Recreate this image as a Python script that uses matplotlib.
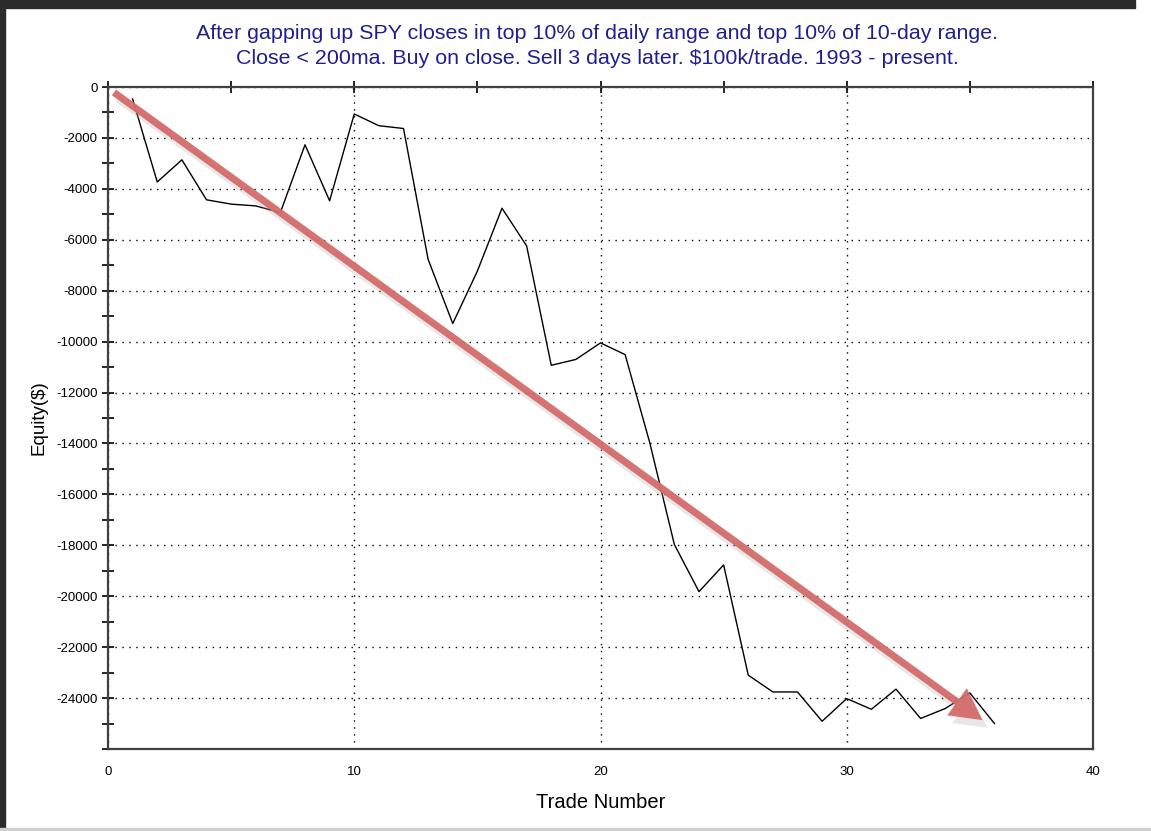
import matplotlib
matplotlib.use("Agg")
import matplotlib.pyplot as plt
from matplotlib.patches import FancyArrowPatch, Rectangle
from matplotlib.ticker import MultipleLocator, FixedLocator

plt.rcParams['font.family'] = ['Liberation Sans', 'DejaVu Sans']
plt.rcParams['axes.unicode_minus'] = False

title_text = ("After gapping up SPY closes in top 10% of daily range and top 10% of 10-day range.\n"
              "Close < 200ma. Buy on close. Sell 3 days later. $100k/trade. 1993 - present.")
x_label = "Trade Number"
y_label = "Equity($)"

trade_numbers = list(range(1, 37))
equity = [-470, -3730, -2860, -4430, -4600, -4670, -4930, -2270, -4470, -1060,
          -1520, -1630, -6770, -9290, -7230, -4760, -6240, -10930, -10700, -10050,
          -10510, -13970, -17970, -19820, -18770, -23100, -23760, -23760, -24910, -24020,
          -24440, -23650, -24800, -24410, -23800, -25000]

y_major_ticks = list(range(0, -24001, -2000))
arrow_start = (0.15, -150)
arrow_end = (35.6, -24930)

fig = plt.figure(figsize=(11.51, 8.31), dpi=100)
fig.patch.set_facecolor('white')

ax = fig.add_axes([108/1151, 1-749/831, (1093-108)/1151, (749-87)/831])
ax.plot(trade_numbers, equity, color='black', lw=1.0, zorder=3)

ax.set_xlim(0, 40)
ax.set_ylim(-26000, 0)
ax.xaxis.set_major_locator(MultipleLocator(10))
ax.xaxis.set_minor_locator(MultipleLocator(5))
ax.yaxis.set_major_locator(FixedLocator(y_major_ticks))
ax.yaxis.set_minor_locator(MultipleLocator(1000))

ax.grid(True, which='major', linestyle=(0, (1, 4)), color='black', lw=1.0)

ax.tick_params(axis='x', which='both', bottom=False, top=True, labelbottom=True,
               labeltop=False, direction='inout', length=8, width=1.2, labelsize=9.5, pad=8)
ax.tick_params(axis='y', which='both', left=True, right=False, direction='inout',
               length=8, width=1.2, labelsize=9.5)
for s in ax.spines.values():
    s.set_color('#404040')
    s.set_linewidth(1.6)

ax.set_xlabel(x_label, fontsize=14.5, labelpad=11)
ax.set_ylabel(y_label, fontsize=13.5, labelpad=6)

fig.text(0.519, 1-46/831, title_text, ha='center', va='center', fontsize=15.4,
         color='#1f1f8f', linespacing=1.4)

# shadow and arrow
style = 'simple,head_length=1.5,head_width=1.6,tail_width=0.34'
shadow = FancyArrowPatch((arrow_start[0]+0.15, arrow_start[1]-250),
                         (arrow_end[0]+0.2, arrow_end[1]-300),
                         arrowstyle=style, mutation_scale=15, color='#a0a0a0',
                         alpha=0.25, lw=0, zorder=4)
ax.add_patch(shadow)
arrow = FancyArrowPatch(arrow_start, arrow_end, arrowstyle=style, mutation_scale=15,
                        color='#d46b6b', alpha=0.95, lw=0, zorder=5)
ax.add_patch(arrow)

# screenshot frame
fig.patches.append(Rectangle((0, 0), 5/1151, 1, transform=fig.transFigure,
                             color='#2b2b2b', zorder=10))
fig.patches.append(Rectangle((0, 1-8/831), 1135/1151, 8/831, transform=fig.transFigure,
                             color='#2b2b2b', zorder=10))
fig.patches.append(Rectangle((0, 0), 1, 3/831, transform=fig.transFigure,
                             color='#d0d0d0', zorder=10))

fig.savefig('out.png', dpi=100)
